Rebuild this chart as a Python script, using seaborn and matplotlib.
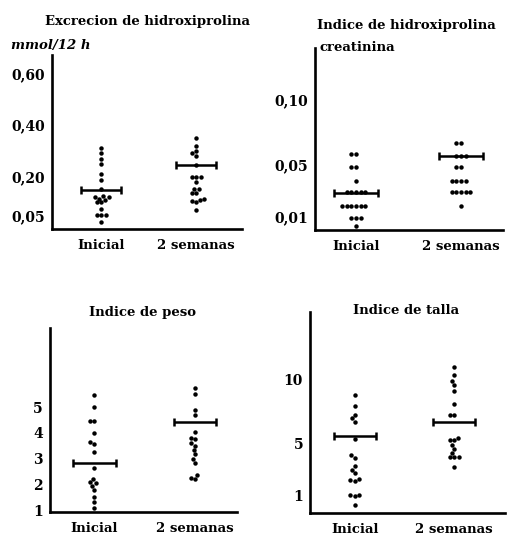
import pandas as pd
import seaborn as sns
import matplotlib.pyplot as plt

# grupos del eje x
grupos = ['Inicial', '2 semanas']

# Excrecion de hidroxiprolina (mmol/12 h)
hp_ini = [0.31, 0.29, 0.27, 0.25, 0.21, 0.185, 0.15, 0.125, 0.12, 0.12,
          0.115, 0.11, 0.10, 0.10, 0.075, 0.05, 0.05, 0.05, 0.025]
hp_2s = [0.35, 0.32, 0.30, 0.29, 0.28, 0.245, 0.20, 0.20, 0.20, 0.18,
         0.15, 0.15, 0.135, 0.135, 0.115, 0.11, 0.105, 0.10, 0.07]
hp_med = [0.147, 0.244]

# Indice hidroxiprolina / creatinina
ihc_ini = [0.058, 0.058, 0.048, 0.048, 0.038, 0.029, 0.029, 0.029, 0.029, 0.029,
           0.0185, 0.0185, 0.0185, 0.0185, 0.0185, 0.0185, 0.009, 0.009, 0.009, 0.003]
ihc_2s = [0.067, 0.067, 0.057, 0.057, 0.057, 0.048, 0.048, 0.038, 0.038, 0.038,
          0.038, 0.029, 0.029, 0.029, 0.029, 0.029, 0.0185]
ihc_med = [0.0287, 0.057]

# Indice de peso
peso_ini = [5.47, 5.0, 4.47, 4.45, 4.0, 3.64, 3.55, 3.26, 2.63, 2.2, 2.1,
            2.05, 1.95, 1.8, 1.5, 1.3, 1.1]
peso_2s = [5.73, 5.53, 4.88, 4.69, 4.04, 3.8, 3.75, 3.6, 3.5, 3.33, 3.17,
           2.98, 2.83, 2.36, 2.25, 2.2]
peso_med = [2.84, 4.41]

# Indice de talla
talla_ini = [8.8, 8.0, 7.3, 7.0, 6.7, 5.4, 4.1, 3.9, 3.3, 3.0, 2.7, 2.3, 2.2,
             2.1, 1.0, 1.0, 0.9, 0.2]
talla_2s = [11.0, 10.4, 9.9, 9.6, 9.1, 8.1, 7.3, 7.3, 5.5, 5.3, 5.3, 4.9,
            4.6, 4.3, 4.0, 4.0, 4.0, 3.2]
talla_med = [5.6, 6.7]

# ticks del eje y
hp_ticks = [0.05, 0.20, 0.40, 0.60]
hp_labels = ['0,05', '0,20', '0,40', '0,60']
ihc_ticks = [0.01, 0.05, 0.10]
ihc_labels = ['0,01', '0,05', '0,10']
peso_ticks = [1, 2, 3, 4, 5]
talla_ticks = [1, 5, 10]

sns.set_style("white")
plt.rcParams['font.family'] = ['DejaVu Serif']
plt.rcParams['font.weight'] = 'bold'
plt.rcParams['text.color'] = 'black'
plt.rcParams['xtick.color'] = 'black'
plt.rcParams['ytick.color'] = 'black'

fig = plt.figure(figsize=(5.09, 5.38), dpi=100)

paneles = [
    # datos, medianas, posicion, ylim, xlim, ticks, etiquetas
    (hp_ini, hp_2s, hp_med, [0.102, 0.574, 0.373, 0.323], (-0.004, 0.67), (-0.52, 1.48), hp_ticks, hp_labels),
    (ihc_ini, ihc_2s, ihc_med, [0.619, 0.572, 0.369, 0.338], (0.0, 0.139), (-0.39, 1.40), ihc_ticks, ihc_labels),
    (peso_ini, peso_2s, peso_med, [0.098, 0.048, 0.367, 0.342], (0.92, 8.07), (-0.44, 1.41), peso_ticks, [str(t) for t in peso_ticks]),
    (talla_ini, talla_2s, talla_med, [0.609, 0.046, 0.383, 0.374], (-0.41, 15.3), (-0.45, 1.51), talla_ticks, [str(t) for t in talla_ticks]),
]

for ini, dos, med, pos, ylim, xlim, ticks, labels in paneles:
    ax = fig.add_axes(pos)
    df = pd.DataFrame({'grupo': [grupos[0]] * len(ini) + [grupos[1]] * len(dos),
                       'valor': ini + dos})
    sns.swarmplot(data=df, x='grupo', y='valor', order=grupos, ax=ax,
                  color='black', size=3.2)
    # barra de la mediana con topes
    ax.errorbar([0, 1], med, xerr=0.21, fmt='none', ecolor='black',
                elinewidth=1.8, capsize=3, capthick=1.8)
    ax.set_ylim(*ylim)
    ax.set_xlim(*xlim)
    ax.set_yticks(ticks)
    ax.set_yticklabels(labels)
    ax.set_xlabel('')
    ax.set_ylabel('')
    sns.despine(ax=ax)
    for s in ['left', 'bottom']:
        ax.spines[s].set_linewidth(1.9)
        ax.spines[s].set_color('black')
    ax.tick_params(axis='y', direction='in', length=3, width=1.2, labelsize=10, pad=5)
    ax.tick_params(axis='x', length=0, labelsize=9.5, pad=7)
    for t in ax.get_xticklabels() + ax.get_yticklabels():
        t.set_fontweight('bold')
        t.set_color('black')

fig.text(0.290, 0.960, 'Excrecion de hidroxiprolina', ha='center', va='center',
         fontsize=9.5, fontweight='bold')
fig.text(0.022, 0.916, 'mmol/12 h', ha='left', va='center', fontsize=9.5,
         fontweight='bold', style='italic')
fig.text(0.622, 0.953, 'Indice de hidroxiprolina', ha='left', va='center',
         fontsize=9.5, fontweight='bold')
fig.text(0.628, 0.911, 'creatinina', ha='left', va='center',
         fontsize=9.5, fontweight='bold')
fig.text(0.280, 0.420, 'Indice de peso', ha='center', va='center',
         fontsize=9.5, fontweight='bold')
fig.text(0.797, 0.422, 'Indice de talla', ha='center', va='center',
         fontsize=9.5, fontweight='bold')

fig.savefig('out.png', dpi=100)
